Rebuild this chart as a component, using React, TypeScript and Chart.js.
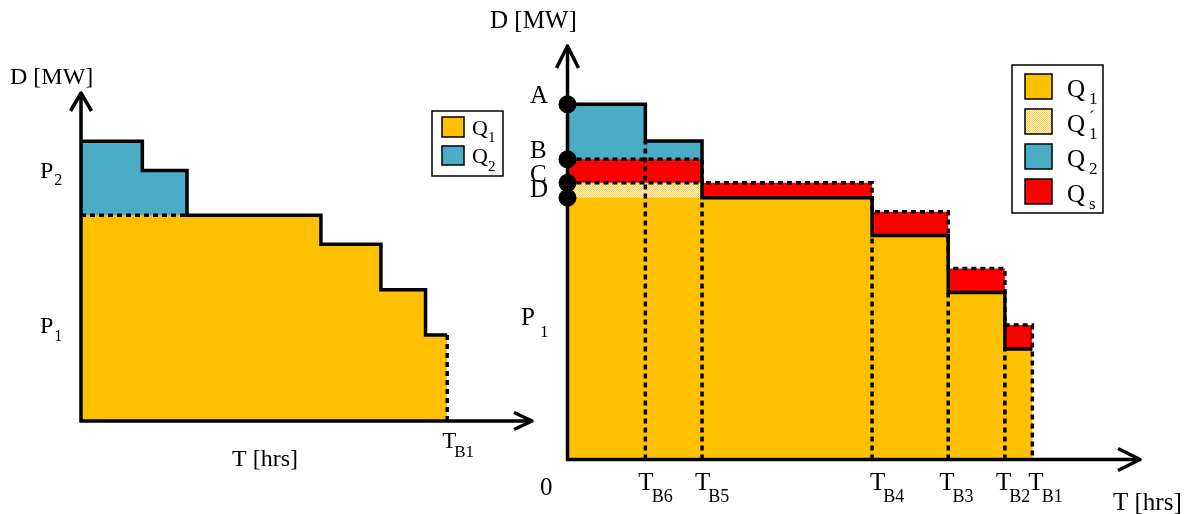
import React, { useEffect, useRef } from "react";
import { Chart, registerables } from "chart.js";

Chart.register(...registerables);

// ---- data (x in relative hours, 0..100; y in relative MW, 0..100) ----
const breakTimes = [13.6, 23.5, 53.2, 66.5, 76.4, 81.2]; // T_B6, T_B5, T_B4, T_B3, T_B2, T_B1
const breakLabels = ["B6", "B5", "B4", "B3", "B2", "B1"];

// left panel: per-segment levels
const leftQ1 = [62.7, 62.7, 62.7, 53.9, 40.0, 26.2];
const leftQ2 = [85.3, 76.4];

// right panel: per-segment levels
const rightQ1 = [63.3, 63.3, 63.3, 54.2, 40.4, 26.7];
const rightQ1p = [66.9, 66.9];
const rightQs = [72.6, 72.6, 66.9, 59.9, 46.2, 32.5];
const rightQ2 = [85.9, 77.0];
const levelLabels = ["A", "B", "C", "D"];
const levelValues = [85.9, 72.6, 66.9, 63.3];

const ORANGE = "#FFC000";
const BLUE = "#4BACC6";
const RED = "#FF0000";
const SERIF = '"Liberation Serif", "Times New Roman", serif';

type P = { x: number; y: number };

function stepPoints(tops: number[], times: number[]): P[] {
  const pts: P[] = [];
  let start = 0;
  tops.forEach((v, i) => {
    pts.push({ x: start, y: v });
    pts.push({ x: times[i], y: v });
    start = times[i];
  });
  return pts;
}

function fillDs(pts: P[], color: any, order: number) {
  return {
    type: "line",
    data: pts,
    fill: "origin",
    backgroundColor: color,
    borderColor: "rgba(0,0,0,0)",
    borderWidth: 0,
    pointRadius: 0,
    order,
  };
}

function lineDs(pts: P[], dashed: boolean, order: number) {
  return {
    type: "line",
    data: pts,
    fill: false,
    borderColor: "#000",
    borderWidth: dashed ? 3.5 : 3.5,
    borderDash: dashed ? [5, 4] : [],
    borderJoinStyle: "miter",
    borderCapStyle: "butt",
    pointRadius: 0,
    order,
  };
}

function makePattern(): CanvasPattern | string {
  const c = document.createElement("canvas");
  c.width = 4;
  c.height = 4;
  const g = c.getContext("2d");
  if (!g) return "#FFE39A";
  g.fillStyle = "#FFF4D6";
  g.fillRect(0, 0, 4, 4);
  g.fillStyle = "#FFD04A";
  for (let i = 0; i < 4; i++)
    for (let j = 0; j < 4; j++) if ((i + j) % 2 === 0) g.fillRect(i, j, 1, 1);
  return g.createPattern(c, "repeat") || "#FFE39A";
}

function textSub(
  ctx: CanvasRenderingContext2D,
  main: string,
  sub: string,
  x: number,
  y: number,
  size: number,
  subSize: number,
  subDx: number,
  subDy: number
) {
  ctx.font = `${size}px ${SERIF}`;
  ctx.fillText(main, x, y);
  const w = ctx.measureText(main).width;
  ctx.font = `${subSize}px ${SERIF}`;
  ctx.fillText(sub, x + w + subDx, y + subDy);
  return x + w + subDx;
}

function drawAxes(chart: any, yHw: number, yLen: number, xLen: number, xHw: number) {
  const ctx: CanvasRenderingContext2D = chart.ctx;
  const xs = chart.scales.x;
  const ys = chart.scales.y;
  const x0 = xs.getPixelForValue(0);
  const x1 = xs.getPixelForValue(100);
  const y0 = ys.getPixelForValue(0);
  const y1 = ys.getPixelForValue(100);
  ctx.save();
  ctx.strokeStyle = "#000";
  ctx.lineWidth = 3.5;
  ctx.setLineDash([]);
  ctx.lineCap = "butt";
  ctx.lineJoin = "round";
  ctx.beginPath();
  ctx.moveTo(x0, y0 + 1.75);
  ctx.lineTo(x0, y1);
  ctx.moveTo(x0 - 1.75, y0);
  ctx.lineTo(x1, y0);
  ctx.stroke();
  ctx.beginPath();
  ctx.moveTo(x0 - yHw, y1 + yLen);
  ctx.lineTo(x0, y1);
  ctx.lineTo(x0 + yHw, y1 + yLen);
  ctx.moveTo(x1 - xLen, y0 - xHw);
  ctx.lineTo(x1, y0);
  ctx.lineTo(x1 - xLen, y0 + xHw);
  ctx.stroke();
  ctx.restore();
}

function swatch(ctx: CanvasRenderingContext2D, x: number, y: number, w: number, h: number, fill: any) {
  ctx.fillStyle = fill;
  ctx.fillRect(x, y, w, h);
  ctx.strokeStyle = "#000";
  ctx.lineWidth = 1.5;
  ctx.setLineDash([]);
  ctx.strokeRect(x, y, w, h);
}

const baseOptions = (padding: any) => ({
  responsive: false,
  maintainAspectRatio: false,
  animation: false,
  events: [],
  layout: { padding },
  plugins: { legend: { display: false }, tooltip: { enabled: false }, title: { display: false } },
  scales: {
    x: { type: "linear", min: 0, max: 100, display: false },
    y: { type: "linear", min: 0, max: 100, display: false },
  },
  elements: { line: { tension: 0 }, point: { radius: 0 } },
});

function leftConfig(): any {
  const outline = [...leftQ2, ...leftQ1.slice(2)];
  const tb1 = breakTimes[5];
  const decor = {
    id: "leftDecor",
    afterDatasetsDraw(chart: any) {
      const ctx: CanvasRenderingContext2D = chart.ctx;
      drawAxes(chart, 10.5, 18, 18, 8.5);
      const xs = chart.scales.x;
      ctx.save();
      ctx.fillStyle = "#000";
      ctx.textBaseline = "alphabetic";
      ctx.font = `24px ${SERIF}`;
      ctx.fillText("D [MW]", 10, 84);
      ctx.fillText("T [hrs]", 232, 466);
      textSub(ctx, "P", "2", 40, 178, 24, 16, 1, 7);
      textSub(ctx, "P", "1", 40, 333, 24, 16, 1, 8);
      textSub(ctx, "T", "B1", xs.getPixelForValue(tb1) - 5, 448, 23, 17, -2, 9);
      // legend
      ctx.strokeStyle = "#000";
      ctx.lineWidth = 1.5;
      ctx.strokeRect(432, 111, 71, 65);
      swatch(ctx, 442, 117, 22, 20, ORANGE);
      swatch(ctx, 442, 146, 22, 19, BLUE);
      ctx.fillStyle = "#000";
      textSub(ctx, "Q", "1", 472, 135, 22, 15, 0, 7);
      textSub(ctx, "Q", "2", 472, 163, 22, 15, 0, 8);
      ctx.restore();
    },
  };
  return {
    type: "line",
    data: {
      datasets: [
        fillDs(stepPoints(leftQ2, breakTimes), BLUE, 10),
        fillDs(stepPoints(leftQ1, breakTimes), ORANGE, 9),
        lineDs(stepPoints(outline, breakTimes), false, 2),
        lineDs(stepPoints(leftQ1.slice(0, 2), breakTimes), true, 1),
        lineDs([{ x: tb1, y: leftQ1[5] }, { x: tb1, y: 0 }], true, 1),
      ],
    },
    options: baseOptions({ left: 81, top: 93, right: 28, bottom: 93 }),
    plugins: [decor],
  };
}

function rightConfig(pattern: any): any {
  const outline = [...rightQ2, ...rightQ1.slice(2)];
  const tb1 = breakTimes[5];
  const verticals = breakTimes.slice(0, 5).map((t, i) =>
    lineDs([{ x: t, y: 0 }, { x: t, y: outline[i + 1] }], true, 2)
  );
  const labelShift = [-7, -7, -2, -9, -9, -4];
  const decor = {
    id: "rightDecor",
    afterDatasetsDraw(chart: any) {
      const ctx: CanvasRenderingContext2D = chart.ctx;
      drawAxes(chart, 11, 22, 22, 11);
      const xs = chart.scales.x;
      const ys = chart.scales.y;
      const off = 470; // canvas left offset on page
      ctx.save();
      ctx.fillStyle = "#000";
      ctx.textBaseline = "alphabetic";
      ctx.font = `25px ${SERIF}`;
      ctx.fillText("D [MW]", 490 - off, 28);
      ctx.fillText("T [hrs]", 1113 - off, 510);
      ctx.fillText("0", 540 - off, 495);
      levelLabels.forEach((lab, i) => {
        ctx.font = `25px ${SERIF}`;
        ctx.fillText(lab, 530 - off, ys.getPixelForValue(levelValues[i]) - 1);
      });
      textSub(ctx, "P", "1", 521 - off, 325, 25, 17, 5, 12);
      breakTimes.forEach((t, i) => {
        textSub(ctx, "T", breakLabels[i], xs.getPixelForValue(t) + labelShift[i], 490, 25, 18, -2, 12);
      });
      // legend
      ctx.strokeStyle = "#000";
      ctx.lineWidth = 1.5;
      ctx.strokeRect(1012 - off, 65, 91, 148);
      const rows = [74, 109, 144, 179];
      const fills = [ORANGE, pattern, BLUE, RED];
      const subs = ["1", "1", "2", "s"];
      rows.forEach((ry, i) => {
        swatch(ctx, 1025 - off, ry, 27, 25, fills[i]);
        ctx.fillStyle = "#000";
        const sx = textSub(ctx, "Q", subs[i], 1067 - off, ry + 23, 25, 17, 4, 7);
        if (i === 1) {
          ctx.font = `17px ${SERIF}`;
          ctx.fillText("\u00B4", sx, ry + 13);
        }
      });
      ctx.restore();
    },
  };
  const dots = {
    type: "line",
    data: levelValues.map((v) => ({ x: 0, y: v })),
    showLine: false,
    fill: false,
    pointRadius: 9,
    pointBackgroundColor: "#000",
    pointBorderColor: "#000",
    pointBorderWidth: 0,
    clip: false,
    order: 0,
  };
  return {
    type: "line",
    data: {
      datasets: [
        fillDs(stepPoints(rightQ2, breakTimes), BLUE, 10),
        fillDs(stepPoints(rightQs, breakTimes), RED, 9),
        fillDs(stepPoints(rightQ1p, breakTimes), pattern, 8),
        fillDs(stepPoints(rightQ1, breakTimes), ORANGE, 7),
        lineDs(stepPoints(outline, breakTimes), false, 3),
        lineDs([...stepPoints(rightQs, breakTimes), { x: tb1, y: 0 }], true, 2),
        lineDs(stepPoints(rightQ1p, breakTimes), true, 2),
        ...verticals,
        dots,
      ],
    },
    options: baseOptions({ left: 97.5, top: 46, right: 51, bottom: 54.5 }),
    plugins: [decor],
  };
}

export default function App() {
  const leftRef = useRef<HTMLCanvasElement>(null);
  const rightRef = useRef<HTMLCanvasElement>(null);
  useEffect(() => {
    const pattern = makePattern();
    const left = new Chart(leftRef.current as HTMLCanvasElement, leftConfig());
    const right = new Chart(rightRef.current as HTMLCanvasElement, rightConfig(pattern));
    return () => {
      left.destroy();
      right.destroy();
    };
  }, []);
  return (
    <div style={{ position: "absolute", left: 0, top: 0, width: 1191, height: 514, background: "#fff" }}>
      <canvas ref={leftRef} width={560} height={514} style={{ position: "absolute", left: 0, top: 0 }} />
      <canvas ref={rightRef} width={721} height={514} style={{ position: "absolute", left: 470, top: 0 }} />
    </div>
  );
}
